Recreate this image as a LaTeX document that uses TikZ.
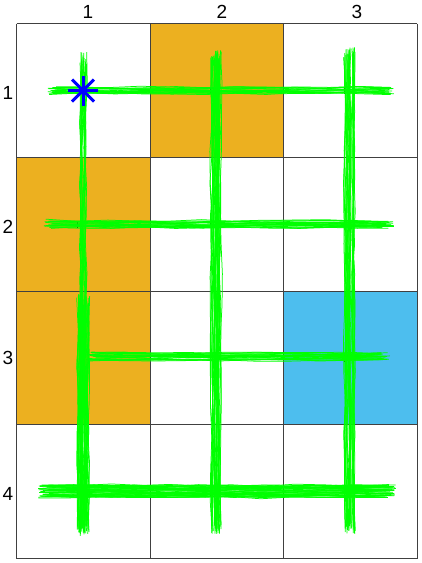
\documentclass[tikz,border=0pt]{standalone}
\usepackage{fontspec}
\setmainfont{Liberation Sans}
\definecolor{cellorange}{RGB}{236,176,32}
\definecolor{cellblue}{RGB}{77,190,238}
\definecolor{trajgreen}{RGB}{0,255,0}
\newcommand\hbundle[6]{%
  \foreach \k in {1,...,#4}{%
    \pgfmathsetmacro\off{#5*rand}%
    \pgfmathsetmacro\xa{#2+6*rand}%
    \pgfmathsetmacro\xb{#3+6*rand}%
    \draw[traj] plot[domain=\xa:\xb, samples=#6] (\x,{#1+\off+1.3*rand});
  }}
\newcommand\vbundle[6]{%
  \foreach \k in {1,...,#4}{%
    \pgfmathsetmacro\off{#5*rand}%
    \pgfmathsetmacro\ya{#2+6*rand}%
    \pgfmathsetmacro\yb{#3+6*rand}%
    \draw[traj] plot[domain=\ya:\yb, samples=#6] ({#1+\off+1.3*rand},\x);
  }}
\begin{document}
\begin{tikzpicture}[x=1pt,y=-1pt,
  traj/.style={draw=trajgreen, line width=0.75pt, line join=round},
  gridline/.style={draw=black!75, line width=0.9pt},
  tick/.style={draw=black, line width=0.8pt},
  lab/.style={font=\fontsize{19}{19}\selectfont, inner sep=0pt},
  startmark/.style={draw=blue, line width=3pt}]
\useasboundingbox (0,0) rectangle (421,563);
\fill[white] (0,0) rectangle (421,563);
% coloured cells
\fill[cellorange] (150,23.5) rectangle (283.5,157.25);
\fill[cellorange] (16.5,157.25) rectangle (150,424.75);
\fill[cellblue] (283.5,291) rectangle (417,424.75);
% grid
\foreach \gx in {16.5,150,283.5,417} \draw[gridline] (\gx,23.5) -- (\gx,558.5);
\foreach \gy in {23.5,157.25,291,424.75,558.5} \draw[gridline] (16.5,\gy) -- (417,\gy);
% labels
\node[lab] (c1) at (88,12) {1};
\node[lab] (c2) at (222,12) {2};
\node[lab] (c3) at (357,12) {3};
\node[lab] (r1) at (8,93) {1};
\node[lab] (r2) at (8,227) {2};
\node[lab] (r3) at (8,358) {3};
\node[lab] (r4) at (8,494) {4};
% small black marks
\foreach \cx in {83.25,216.75,350.25}
  \foreach \cy in {224.1,357.9,491.6}
    \draw[tick] (\cx-6,\cy-3) -- (\cx-6,\cy+4);
\draw[tick] (210.75,87.4) -- (210.75,94.4);
\draw[tick] (344.25,87.4) -- (344.25,94.4);
% trajectories
\pgfmathsetseed{7}
\hbundle{90.5}{52}{388}{18}{3.5}{12}
\hbundle{224}{48}{388}{22}{4}{12}
\hbundle{357}{92}{385}{22}{4}{10}
\hbundle{491}{44}{390}{44}{6.5}{12}
\vbundle{83.5}{58}{530}{16}{3}{16}
\vbundle{83.5}{300}{530}{34}{6}{8}
\vbundle{216.5}{55}{528}{32}{5.5}{16}
\vbundle{349.5}{52}{528}{28}{5}{16}
% start marker
\coordinate (start) at (83,90.5);
\draw[startmark] ([xshift=-15pt]start) -- ([xshift=15pt]start);
\draw[startmark] ([yshift=-15pt]start) -- ([yshift=15pt]start);
\draw[startmark] ([shift={(-11,-11)}]start) -- ([shift={(11,11)}]start);
\draw[startmark] ([shift={(-11,11)}]start) -- ([shift={(11,-11)}]start);
\end{tikzpicture}
\end{document}
